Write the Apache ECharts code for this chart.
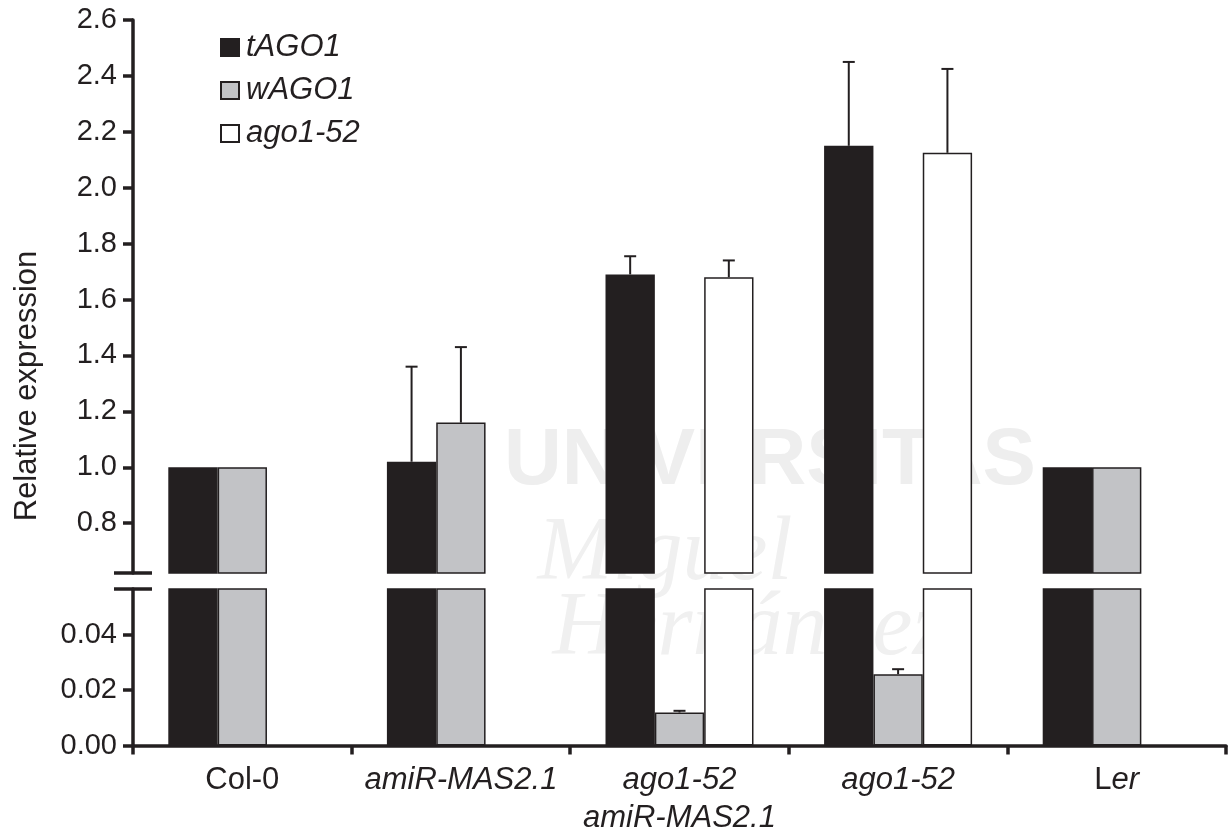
<!DOCTYPE html>
<html><head><meta charset="utf-8">
<script src="https://cdn.jsdelivr.net/npm/echarts@6/dist/echarts.min.js"></script>
<style>html,body{margin:0;padding:0;background:#fff}#c{width:1228px;height:834px}</style>
</head><body><div id="c"></div>
<script>
// ---- data ----
const categories = ['Col-0', 'amiR-MAS2.1', 'ago1-52\namiR-MAS2.1', 'ago1-52', 'Ler'];
const seriesNames = ['tAGO1', 'wAGO1', 'ago1-52'];
const tAGO1 = [1.00, 1.02, 1.69, 2.15, 1.00];
const tAGO1Err = [0, 0.34, 0.065, 0.30, 0];
const wAGO1 = [1.00, 1.16, 0.0119, 0.0257, 1.00];
const wAGO1Err = [0, 0.27, 0.0006, 0.0018, 0];
const ago152 = [null, null, 1.68, 2.125, null];
const ago152Err = [null, null, 0.06, 0.30, null];
const upperTicks = [0.8, 1.0, 1.2, 1.4, 1.6, 1.8, 2.0, 2.2, 2.4, 2.6];
const lowerTicks = [0, 0.02, 0.04];
const upperRange = [0.622, 2.6];
const lowerRange = [0, 0.0564];

// ---- styling ----
const INK = '#231f20';
const colors = [INK, '#c2c3c6', '#ffffff'];
const FONT = '"Liberation Sans", Arial, sans-serif';
const GAP = 0.323;
const values = [tAGO1, wAGO1, ago152];
const errs = [tAGO1Err, wAGO1Err, ago152Err];

const chart = echarts.init(document.getElementById('c'), null, {renderer: 'canvas'});

function renderErr(params, api) {
  const cat = api.value(0), v = api.value(1), e = api.value(2), pos = api.value(3);
  const band = api.size([1, 0])[0];
  const bw = band * (1 - GAP) / 3;
  const p0 = api.coord([cat, v]);
  const p1 = api.coord([cat, v + e]);
  const x = p0[0] + (pos - 1) * bw;
  const style = {stroke: INK, lineWidth: 2, fill: null};
  return {type: 'group', children: [
    {type: 'line', shape: {x1: x, y1: p0[1], x2: x, y2: p1[1]}, style: style},
    {type: 'line', shape: {x1: x - 6, y1: p1[1], x2: x + 6, y2: p1[1]}, style: style}
  ]};
}

const series = [];
[0, 1].forEach(function (g) {
  values.forEach(function (vals, s) {
    series.push({
      name: seriesNames[s], type: 'bar', xAxisIndex: g, yAxisIndex: g,
      barGap: '0%', barCategoryGap: (GAP * 100) + '%', clip: true,
      itemStyle: {color: colors[s], borderColor: INK, borderWidth: 1.5},
      emphasis: {disabled: true},
      data: vals.map(function (v) {
        if (v == null) return '-';
        if (g === 0 && v < upperRange[0]) return '-';
        return v;
      })
    });
  });
  const errData = [];
  values.forEach(function (vals, s) {
    vals.forEach(function (v, i) {
      const e = errs[s][i];
      if (v == null || !e) return;
      if (g === 0 && v < upperRange[0]) return;
      if (g === 1 && v > lowerRange[1]) return;
      errData.push([i, v, e, s]);
    });
  });
  series.push({
    name: 'err' + g, type: 'custom', xAxisIndex: g, yAxisIndex: g,
    renderItem: renderErr, encode: {x: 0, y: 1}, z: 5, silent: true,
    data: errData
  });
});

const axisLine = {show: true, lineStyle: {color: INK, width: 3.5}};
const tickStyle = {color: INK, width: 3.5};

const option = {
  backgroundColor: '#ffffff',
  animation: false,
  textStyle: {fontFamily: FONT, color: INK},
  legend: {
    data: seriesNames, orient: 'vertical', left: 220, top: 32, padding: 0,
    itemWidth: 18, itemHeight: 17, itemGap: 12, icon: 'rect',
    selectedMode: false,
    textStyle: {fontFamily: FONT, fontSize: 31, fontStyle: 'italic', color: INK, lineHeight: 30, padding: [0, 0, 0, 2]}
  },
  grid: [
    {left: 133, right: 2, top: 20, height: 553},
    {left: 133, right: 2, top: 589, height: 157}
  ],
  xAxis: [
    {type: 'category', gridIndex: 0, data: categories, show: false},
    {type: 'category', gridIndex: 1, data: categories,
      axisLine: axisLine,
      axisTick: {show: true, length: 9, inside: false, alignWithLabel: false, lineStyle: tickStyle},
      axisLabel: {
        margin: 16, interval: 0, color: INK,
        formatter: function (v) {
          if (v === 'Col-0') return '{n|Col-0}';
          if (v === 'Ler') return '{n|L}{i|er}';
          return v.split('\n').map(function (s) { return '{i|' + s + '}'; }).join('\n');
        },
        rich: {
          n: {fontFamily: FONT, fontSize: 31, color: INK, lineHeight: 38},
          i: {fontFamily: FONT, fontSize: 31, fontStyle: 'italic', color: INK, lineHeight: 38}
        }
      }
    }
  ],
  yAxis: [
    {type: 'value', gridIndex: 0, min: upperRange[0], max: upperRange[1],
      splitLine: {show: false}, axisLine: axisLine,
      axisTick: {show: true, length: 10, lineStyle: tickStyle, customValues: upperTicks},
      axisLabel: {customValues: upperTicks, margin: 16, fontSize: 29, fontFamily: FONT, color: INK,
        formatter: function (v) { return v.toFixed(1); }}
    },
    {type: 'value', gridIndex: 1, min: lowerRange[0], max: lowerRange[1],
      splitLine: {show: false}, axisLine: axisLine,
      axisTick: {show: true, length: 10, lineStyle: tickStyle, customValues: lowerTicks},
      axisLabel: {customValues: lowerTicks, margin: 16, fontSize: 29, fontFamily: FONT, color: INK,
        formatter: function (v) { return v.toFixed(2); }}
    }
  ],
  graphic: [
    {type: 'text', x: 770, y: 462, z: 0, silent: true,
      style: {text: 'UNIVERSITAS', font: 'bold 80px ' + FONT, fill: '#eeeeee', align: 'center', verticalAlign: 'middle'}},
    {type: 'text', x: 665, y: 555, z: 0, silent: true,
      style: {text: 'Miguel', font: 'italic 90px "Liberation Serif", serif', fill: '#f0f0f0', align: 'center', verticalAlign: 'middle'}},
    {type: 'text', x: 750, y: 630, z: 0, silent: true,
      style: {text: 'Hernández', font: 'italic 90px "Liberation Serif", serif', fill: '#f0f0f0', align: 'center', verticalAlign: 'middle'}},
    {type: 'text', x: 27, y: 386, rotation: Math.PI / 2, silent: true,
      style: {text: 'Relative expression', font: '31px ' + FONT, fill: INK, align: 'center', verticalAlign: 'middle'}},
    {type: 'line', z: 10, silent: true, shape: {x1: 114, y1: 573, x2: 152, y2: 573}, style: {stroke: INK, lineWidth: 3.5}},
    {type: 'line', z: 10, silent: true, shape: {x1: 114, y1: 589, x2: 152, y2: 589}, style: {stroke: INK, lineWidth: 3.5}}
  ],
  series: series
};
chart.setOption(option);
</script>
</body></html>
